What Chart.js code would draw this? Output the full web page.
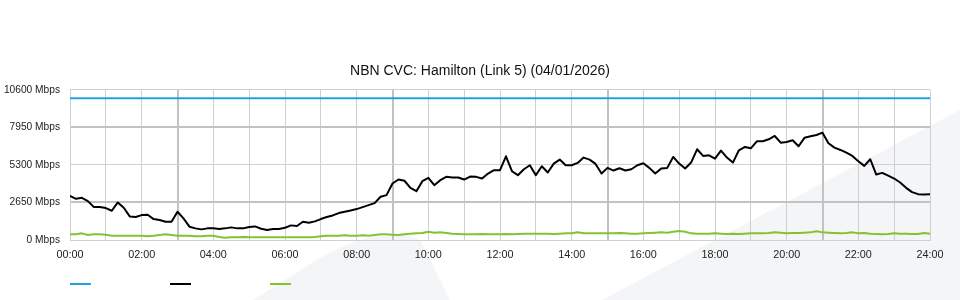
<!DOCTYPE html>
<html>
<head>
<meta charset="utf-8">
<script src="https://cdn.jsdelivr.net/npm/chart.js@4"></script>
<style>
  body { margin: 0; background: #fff; }
  #wrap { width: 960px; height: 300px; position: relative; }
</style>
</head>
<body>
<div id="wrap"><canvas id="myChart"></canvas></div>
<script>
// samples every 10 minutes, 00:00 .. 24:00
const stepMinutes = 10
const capacityTimes = [0, 1440]
const capacity = [10000, 10000]
const traffic = [
  3119, 2908, 2978, 2744, 2322, 2322, 2251, 2064, 2650, 2275,
  1665, 1618, 1759, 1782, 1477, 1407, 1290, 1290, 1993, 1524,
  938, 821, 750, 821, 821, 774, 821, 891, 821, 821,
  915, 961, 797, 704, 774, 774, 868, 1032, 985, 1290,
  1219, 1313, 1477, 1618, 1735, 1899, 1993, 2087, 2181, 2322,
  2462, 2603, 3048, 3166, 3986, 4268, 4180, 3682, 3447, 4151,
  4385, 3869, 4221, 4456, 4409, 4409, 4268, 4479, 4456, 4338,
  4690, 4925, 4925, 5909, 4854, 4573, 4995, 5276, 4573, 5206,
  4760, 5393, 5675, 5276, 5276, 5440, 5816, 5675, 5370, 4690,
  5089, 4901, 5065, 4901, 4995, 5276, 5417, 5089, 4690, 5042,
  5089, 5863, 5393, 5042, 5464, 6402, 5933, 5980, 5745, 6308,
  5816, 5464, 6332, 6566, 6470, 6965, 6965, 7105, 7340, 6871,
  6918, 7035, 6613, 7223, 7316, 7410, 7574, 6824, 6519, 6355,
  6167, 5933, 5558, 5229, 5698, 4620, 4737, 4549, 4338, 4057,
  3682, 3377, 3236, 3213, 3236
]
const upstream = [
  399, 399, 469, 350, 399, 399, 375, 305, 305, 305,
  305, 305, 305, 258, 305, 352, 399, 352, 305, 305,
  305, 258, 258, 305, 305, 211, 164, 188, 188, 211,
  188, 188, 188, 188, 188, 188, 188, 188, 188, 188,
  188, 211, 258, 305, 305, 305, 328, 305, 305, 328,
  305, 352, 399, 399, 375, 352, 399, 445, 469, 492,
  586, 516, 539, 492, 445, 422, 399, 399, 399, 422,
  399, 399, 399, 422, 399, 422, 445, 445, 445, 445,
  445, 422, 445, 469, 469, 540, 469, 469, 469, 469,
  469, 469, 492, 469, 445, 445, 469, 492, 516, 539,
  516, 586, 633, 586, 469, 445, 445, 445, 469, 445,
  422, 445, 422, 445, 469, 469, 469, 492, 539, 516,
  469, 492, 492, 516, 539, 610, 539, 516, 492, 469,
  492, 539, 469, 492, 445, 422, 399, 422, 469, 445,
  445, 422, 422, 492, 445
]
const yTicks = [0, 2650, 5300, 7950, 10600]
const majorY = [2650, 7950]

const gridLight = 'rgb(208,208,208)'
const gridDark = 'rgb(194,194,194)'
const legendGap = '                  '

function hhmm(v) {
  const h = Math.round(v / 60)
  return (h < 10 ? '0' : '') + h + ':00'
}

const backdrop = {
  id: 'backdrop',
  beforeDraw(chart) {
    const c = chart.ctx
    c.save()
    c.fillStyle = '#f4f5f7'
    c.beginPath()
    c.moveTo(253, 300)
    c.lineTo(320, 258)
    c.quadraticCurveTo(385, 222, 420, 240)
    c.lineTo(450, 300)
    c.closePath()
    c.fill()
    c.beginPath()
    c.moveTo(602, 300)
    c.lineTo(960, 110)
    c.lineTo(960, 300)
    c.closePath()
    c.fill()
    c.restore()
  },
  afterLayout(chart) {
    // title centred on the whole canvas, legend keys under the plot's left edge
    chart.titleBlock.right = chart.width
    chart.legend.left = 57
  }
}

const ctx = document.getElementById('myChart')

new Chart(ctx, {
  type: 'line',
  data: {
    datasets: [
      {
        label: 'Capacity',
        data: capacity.map((v, i) => ({x: capacityTimes[i], y: v})),
        borderColor: '#1fa3e0',
        borderWidth: 2
      },
      {
        label: 'Download',
        data: traffic.map((v, i) => ({x: i * stepMinutes, y: v})),
        borderColor: '#000000',
        borderWidth: 2
      },
      {
        label: 'Upload',
        data: upstream.map((v, i) => ({x: i * stepMinutes, y: v})),
        borderColor: '#84c232',
        borderWidth: 2
      }
    ]
  },
  options: {
    responsive: true,
    maintainAspectRatio: false,
    animation: false,
    layout: { padding: { left: 0, right: 30, top: 0, bottom: 0 } },
    elements: {
      point: { radius: 0 },
      line: { tension: 0, borderJoinStyle: 'round' }
    },
    scales: {
      x: {
        type: 'linear',
        min: 0,
        max: 1440,
        afterFit: s => { s.height = 25 },
        grid: {
          drawTicks: false,
          color: c => (c.tick && c.tick.value % 360 === 180) ? gridDark : gridLight,
          lineWidth: c => (c.tick && c.tick.value % 360 === 180) ? 2 : 1
        },
        border: { color: gridLight },
        ticks: {
          stepSize: 60,
          autoSkip: false,
          maxRotation: 0,
          padding: 9,
          color: '#222',
          font: { family: 'Liberation Sans', size: 10.8 },
          callback: v => v % 120 === 0 ? hhmm(v) : ''
        }
      },
      y: {
        min: yTicks[0],
        max: yTicks[yTicks.length - 1],
        afterFit: s => { s.width = 70 },
        afterBuildTicks: s => { s.ticks = yTicks.map(v => ({value: v})) },
        grid: {
          drawTicks: false,
          color: c => (c.tick && majorY.includes(c.tick.value)) ? gridDark : gridLight,
          lineWidth: c => (c.tick && majorY.includes(c.tick.value)) ? 2 : 1
        },
        border: { color: gridLight },
        ticks: {
          padding: 10,
          color: '#222',
          font: { family: 'Liberation Sans', size: 10.2 },
          callback: v => v + ' Mbps'
        }
      }
    },
    plugins: {
      title: {
        display: true,
        text: 'NBN CVC: Hamilton (Link 5) (04/01/2026)',
        color: '#111',
        font: { family: 'Liberation Sans', size: 14, weight: 'normal' },
        padding: { top: 63, bottom: 10 }
      },
      legend: {
        position: 'bottom',
        align: 'start',
        labels: {
          boxWidth: 21,
          boxHeight: 2,
          padding: 13,
          font: { family: 'Liberation Sans', size: 12 },
          generateLabels: chart => chart.data.datasets.map((ds, i) => ({
            text: legendGap,
            fillStyle: ds.borderColor,
            strokeStyle: ds.borderColor,
            lineWidth: 0,
            hidden: false,
            datasetIndex: i
          }))
        }
      },
      tooltip: { enabled: false }
    }
  },
  plugins: [backdrop]
})
</script>
</body>
</html>
